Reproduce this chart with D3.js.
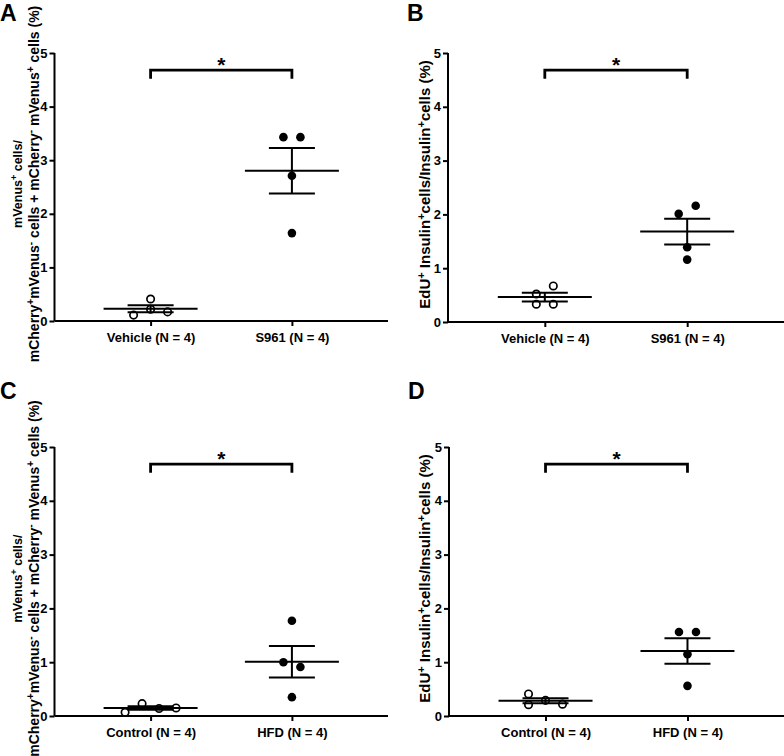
<!DOCTYPE html>
<html>
<head>
<meta charset="utf-8">
<script src="https://cdn.jsdelivr.net/npm/d3@7"></script>
<style>
  html, body { margin: 0; padding: 0; background: #fff; }
  svg { display: block; }
  text { font-family: "Liberation Sans", Arial, Helvetica, sans-serif; font-weight: bold; fill: #000; }
</style>
</head>
<body>
<svg id="chart" width="784" height="756"></svg>
<script>
// ---------------- DATA ----------------
const panelLetters = ["A", "B", "C", "D"];
const categoriesAB = ["Vehicle (N = 4)", "S961 (N = 4)"];
const categoriesCD = ["Control (N = 4)", "HFD (N = 4)"];
const yTickValues = [0, 1, 2, 3, 4, 5];
const yDomain = [0, 5];

// Panel A: mVenus+ ratio (%)
const panelA_vehicle = [0.11, 0.22, 0.17, 0.41];
const panelA_s961    = [3.43, 3.43, 2.71, 1.64];
// Panel B: EdU+ insulin+ (%)
const panelB_vehicle = [0.33, 0.33, 0.52, 0.67];
const panelB_s961    = [2.01, 2.16, 1.39, 1.16];
// Panel C: mVenus+ ratio (%)
const panelC_control = [0.07, 0.23, 0.14, 0.15];
const panelC_hfd     = [1.00, 0.91, 1.77, 0.35];
// Panel D: EdU+ insulin+ (%)
const panelD_control = [0.21, 0.29, 0.22, 0.41];
const panelD_hfd     = [1.56, 1.56, 1.15, 0.56];

const significance = ["*", "*", "*", "*"];

// y-axis titles (segments: text, superscript flag)
const labelMVenus = [
  [["mVenus", 0], ["+", 1], [" cells/", 0]],
  [["mCherry", 0], ["+", 1], ["mVenus", 0], ["-", 1], [" cells + mCherry", 0], ["-", 1], [" mVenus", 0], ["+", 1], [" cells (%)", 0]]
];
const labelEdU = [
  [["EdU", 0], ["+", 1], [" Insulin", 0], ["+", 1], ["cells/Insulin", 0], ["+", 1], ["cells (%)", 0]]
];

// ---------------- LAYOUT ----------------
const panels = [
  { letter: panelLetters[0], cats: categoriesAB, groups: [panelA_vehicle, panelA_s961], label: labelMVenus,
    x0: 54.5, x1: 388, yTop: 53, yBot: 321, letterPos: [0, 21], labelX: [22, 39], labelSize: [12.5, 14] },
  { letter: panelLetters[1], cats: categoriesAB, groups: [panelB_vehicle, panelB_s961], label: labelEdU,
    x0: 448, x1: 784, yTop: 53, yBot: 322, letterPos: [407, 21], labelX: [430], labelSize: [15] },
  { letter: panelLetters[2], cats: categoriesCD, groups: [panelC_control, panelC_hfd], label: labelMVenus,
    x0: 54.5, x1: 388, yTop: 447, yBot: 716, letterPos: [0, 399], labelX: [22, 39], labelSize: [12.5, 14] },
  { letter: panelLetters[3], cats: categoriesCD, groups: [panelD_control, panelD_hfd], label: labelEdU,
    x0: 449, x1: 784, yTop: 447, yBot: 716, letterPos: [408, 399], labelX: [430], labelSize: [15] }
];

const svg = d3.select("#chart");
const R_OPEN = 3.7, R_FILL = 4.3;
const SLOT = 17;          // horizontal spacing between dots in a row
const ROW_TOL = 9;        // px: values within this form a row
const COLLIDE = 9;        // px: minimum centre distance
const MEAN_HW = 47, CAP_HW = 23;

function layoutDots(values, y) {
  const idx = values.map((v, i) => i).sort((a, b) => values[a] - values[b]);
  const rows = [];
  idx.forEach(i => {
    const py = y(values[i]);
    const last = rows[rows.length - 1];
    if (last && Math.abs(y(values[last[0]]) - py) <= ROW_TOL) last.push(i);
    else rows.push([i]);
  });
  const out = new Array(values.length);
  const placed = [];
  rows.forEach(row => {
    row.sort((a, b) => a - b);
    row.forEach((i, k) => {
      let slot = k - (row.length - 1) / 2;
      const py = y(values[i]);
      for (const t of [0, -1, 1, -2, 2]) {
        const s = slot + t;
        if (placed.every(p => Math.hypot((p.s - s) * SLOT, p.py - py) >= COLLIDE)) { slot = s; break; }
      }
      placed.push({ s: slot, py });
      out[i] = { v: values[i], dx: slot * SLOT };
    });
  });
  return out;
}

function drawRichText(g, segs, x, yc, size) {
  const supSize = Math.round(size * 0.7);
  const t = g.append("text")
    .attr("transform", `translate(${x},${yc}) rotate(-90)`)
    .attr("text-anchor", "middle")
    .style("font-size", size + "px");
  let up = false;
  segs.forEach(([s, sup]) => {
    const ts = t.append("tspan").text(s);
    if (sup) {
      ts.style("font-size", supSize + "px");
      if (!up) { ts.attr("dy", -5); up = true; }
    } else if (up) { ts.attr("dy", 5); up = false; }
  });
}

panels.forEach((p, pi) => {
  const g = svg.append("g");
  const y = d3.scaleLinear().domain(yDomain).range([p.yBot, p.yTop]);
  const x = d3.scalePoint().domain(p.cats).range([p.x0, p.x1]).padding(0.68);

  // panel letter
  g.append("text").attr("x", p.letterPos[0]).attr("y", p.letterPos[1])
    .style("font-size", "23px").text(p.letter);

  // axes
  const yAxis = d3.axisLeft(y).tickValues(yTickValues).tickFormat(d3.format("d")).tickSize(5).tickPadding(2);
  const ga = g.append("g").attr("transform", `translate(${p.x0},0)`).call(yAxis);
  ga.select(".domain").attr("d", `M0,${p.yTop}V${p.yBot}`);
  const xAxis = d3.axisBottom(x).tickSize(5).tickPadding(4);
  const gx = g.append("g").attr("transform", `translate(0,${p.yBot})`).call(xAxis);
  gx.select(".domain").attr("d", `M${p.x0},0H${p.x1}`);
  [ga, gx].forEach(a => {
    a.select(".domain").attr("stroke", "#000").attr("stroke-width", 2).attr("fill", "none");
    a.selectAll(".tick line").attr("stroke", "#000").attr("stroke-width", 2);
    a.selectAll(".tick text").style("font-size", "13px").attr("fill", "#000")
      .style("font-family", "'Liberation Sans', Arial, sans-serif").style("font-weight", "bold");
  });
  gx.selectAll(".tick text").attr("dy", "0.9em");

  // y title
  const yc = (p.yTop + p.yBot) / 2 - 3;
  p.label.forEach((segs, li) => drawRichText(g, segs, p.labelX[li], yc, p.labelSize[li]));

  // dots + mean/SEM
  p.groups.forEach((vals, gi) => {
    const cx = x(p.cats[gi]);
    const dots = layoutDots(vals, y);
    const filled = gi === 1;
    g.append("g").selectAll("circle").data(dots).join("circle")
      .attr("cx", d => cx + d.dx).attr("cy", d => y(d.v))
      .attr("r", filled ? R_FILL : R_OPEN)
      .attr("fill", filled ? "#000" : "#fff")
      .attr("stroke", "#000").attr("stroke-width", filled ? 0 : 1.7);

    const m = d3.mean(vals);
    const sem = d3.deviation(vals) / Math.sqrt(vals.length);
    const eb = g.append("g").attr("stroke", "#000").attr("stroke-width", 2).attr("fill", "none");
    eb.append("line").attr("x1", cx - MEAN_HW).attr("x2", cx + MEAN_HW).attr("y1", y(m)).attr("y2", y(m));
    eb.append("line").attr("x1", cx).attr("x2", cx).attr("y1", y(m + sem)).attr("y2", y(m - sem));
    [m + sem, m - sem].forEach(v =>
      eb.append("line").attr("x1", cx - CAP_HW).attr("x2", cx + CAP_HW).attr("y1", y(v)).attr("y2", y(v)));
  });

  // significance bracket
  const xa = x(p.cats[0]), xb = x(p.cats[1]);
  const yb = y(4.68), ye = y(4.52);
  g.append("path")
    .attr("d", `M${xa},${ye}V${yb}H${xb}V${ye}`)
    .attr("fill", "none").attr("stroke", "#000").attr("stroke-width", 2.8);
  g.append("text").attr("x", (xa + xb) / 2).attr("y", yb + 2)
    .attr("text-anchor", "middle").style("font-size", "21px").text(significance[pi]);
});
</script>
</body>
</html>
